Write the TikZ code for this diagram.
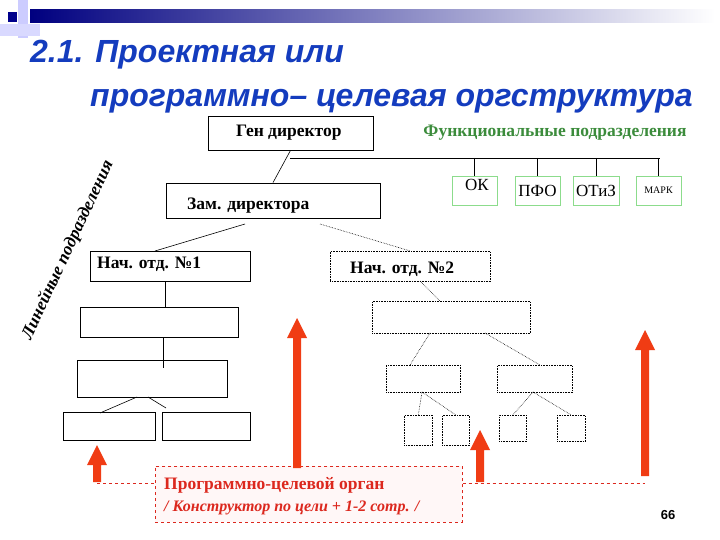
\documentclass[tikz,border=0pt]{standalone}
\usepackage{fontspec}
\setmainfont{Liberation Serif}
\setsansfont{Liberation Sans}
\usetikzlibrary{arrows.meta}
\definecolor{tblue}{RGB}{20,60,190}
\definecolor{fgreen}{RGB}{60,140,60}
\definecolor{bgreen}{RGB}{140,220,140}
\definecolor{ared}{RGB}{240,60,20}
\definecolor{tred}{RGB}{220,40,30}
\begin{document}
\begin{tikzpicture}[x=1pt,y=-1pt,
  sbox/.style={draw,line width=0.8pt,fill=white},
  dbox/.style={draw,densely dotted,line width=0.6pt},
  gbox/.style={draw=bgreen,line width=0.8pt,inner sep=0pt,font=\fontsize{17}{19}\selectfont},
  sl/.style={line width=0.6pt},
  dl/.style={densely dotted,line width=0.6pt},
  txt/.style={font=\fontsize{17.5}{19}\selectfont\bfseries,anchor=west,inner sep=0pt}]
\useasboundingbox (0,0) rectangle (720,540);
\fill[white] (0,0) rectangle (720,540);
% top bar
\shade[left color=blue!50!black,right color=white] (30,10) rectangle (715,23);
\fill[blue!20!white] (18,0) rectangle (28,38);
\fill[blue!15!white] (0,24) rectangle (40,36);
\fill[blue!55!black] (8,12) rectangle (17,22);
% title
\node[font=\fontsize{32}{35}\sffamily\bfseries\itshape,text=tblue,anchor=base west,inner sep=0pt] (t1) at (30,63) {2.1. Проектная или};
\node[font=\fontsize{32}{35}\sffamily\bfseries\itshape,text=tblue,anchor=base west,inner sep=0pt] (t2) at (90,107) {программно– целевая оргструктура};
% boxes
\node[sbox,minimum width=165,minimum height=34] (gen) at (290.5,133) {};
\node[txt] at (236,133) {Ген директор};
\node[font=\fontsize{17.5}{19}\selectfont\bfseries,text=fgreen] (func) at (555,133) {Функциональные подразделения};
\node[sbox,minimum width=214,minimum height=35] (zam) at (273,200.5) {};
\node[txt] at (187,206) {Зам. директора};
\draw[sl] (gen.south) -- (zam.north);
\coordinate (hl) at (290,158); \coordinate (hr) at (660,158);
\draw[sl] (hl) -- (hr);
\node[gbox,minimum width=45,minimum height=29] (ok) at (474.5,190.5) {};
\node[font=\fontsize{17}{19}\selectfont,anchor=north,inner sep=0pt] at (477,179) {ОК};
\node[gbox,minimum width=45,minimum height=29] (pfo) at (537.5,190.5) {ПФО};
\node[gbox,minimum width=46,minimum height=29] (otiz) at (596,190.5) {ОТиЗ};
\node[gbox,minimum width=45,minimum height=29,font=\fontsize{10}{11}\selectfont] (mark) at (658.5,190.5) {МАРК};
\draw[sl] (ok.north |- hl) -- (ok.north);
\draw[sl] (pfo.north |- hl) -- (pfo.north);
\draw[sl] (otiz.north |- hl) -- (otiz.north);
\draw[sl] (mark.north |- hl) -- (mark.north);
% left branch
\node[sbox,minimum width=160,minimum height=30,anchor=north west] (n1) at (90,251) {};
\node[txt] at (97,264) {Нач. отд. №1};
\node[sbox,minimum width=158,minimum height=30,anchor=north west] (l2) at (80,307) {};
\node[sbox,minimum width=150,minimum height=37,anchor=north west] (l3) at (77,360) {};
\node[sbox,minimum width=92,minimum height=28,anchor=north west] (l4a) at (63,412) {};
\node[sbox,minimum width=88,minimum height=28,anchor=north west] (l4b) at (162,412) {};
\coordinate (z1) at (245,224); \coordinate (z2) at (320,224);
\draw[sl] (z1) -- (155,251);
\draw[sl] (165,281) -- (165,307);
\draw[sl] (163,337) -- (163,368);
\draw[sl] (137,397) -- (100,413);
\draw[sl] (148,397) -- (166,408);
% right branch
\node[dbox,minimum width=160,minimum height=30,anchor=north west] (n2) at (330,251) {};
\node[txt] at (350,269) {Нач. отд. №2};
\draw[dl] (z2) -- (n2.north);
\node[dbox,minimum width=158,minimum height=32,anchor=north west] (r2) at (372,301) {};
\draw[dl] (420,281) -- (440,301);
\node[dbox,minimum width=74,minimum height=27,anchor=north west] (r3a) at (386,365) {};
\node[dbox,minimum width=75,minimum height=27,anchor=north west] (r3b) at (497,365) {};
\draw[dl] (430,333) -- (410,365);
\draw[dl] (485,333) -- (540,365);
\node[dbox,minimum width=28,minimum height=30,anchor=north west] (s1) at (404,415) {};
\node[dbox,minimum width=27,minimum height=30,anchor=north west] (s2) at (442,415) {};
\node[dbox,minimum width=27,minimum height=26,anchor=north west] (s3) at (499,415) {};
\node[dbox,minimum width=28,minimum height=26,anchor=north west] (s4) at (557,415) {};
\draw[dl] (422,392) -- (s1.north);
\draw[dl] (422,392) -- (s2.north);
\draw[dl] (533,392) -- (s3.north);
\draw[dl] (533,392) -- (s4.north);
% program box
\node[draw=tred,dashed,line width=0.6pt,fill=red!3,minimum width=307,minimum height=56,anchor=north west] (prog) at (155,466) {};
\node[txt,text=tred] at (164,485) {Программно-целевой орган};
\node[txt,text=tred,font=\fontsize{16}{18}\selectfont\bfseries\itshape] at (164,508) {/ Конструктор по цели + 1-2 сотр. /};
\coordinate (a1) at (97,483); \coordinate (a4) at (645,483);
\draw[tred,dashed,line width=0.6pt] (a1) -- (prog.west |- a1);
\draw[tred,dashed,line width=0.6pt] (prog.east |- a4) -- (a4);
% arrows
\foreach \x/\yb/\yt in {97/482/445, 297/468/318, 480/482/430, 645/476/330}{
  \fill[ared] (\x-4,\yb) -- (\x-4,\yt+20) -- (\x-10,\yt+20) -- (\x,\yt) -- (\x+10,\yt+20) -- (\x+4,\yt+20) -- (\x+4,\yb) -- cycle;
}
% rotated
\node[font=\fontsize{17.5}{19}\selectfont\bfseries\itshape,rotate=65] (lin) at (68,250) {Линейные подразделения};
\node[font=\fontsize{13}{14}\sffamily\bfseries] (pg) at (668,515) {66};
\end{tikzpicture}
\end{document}
